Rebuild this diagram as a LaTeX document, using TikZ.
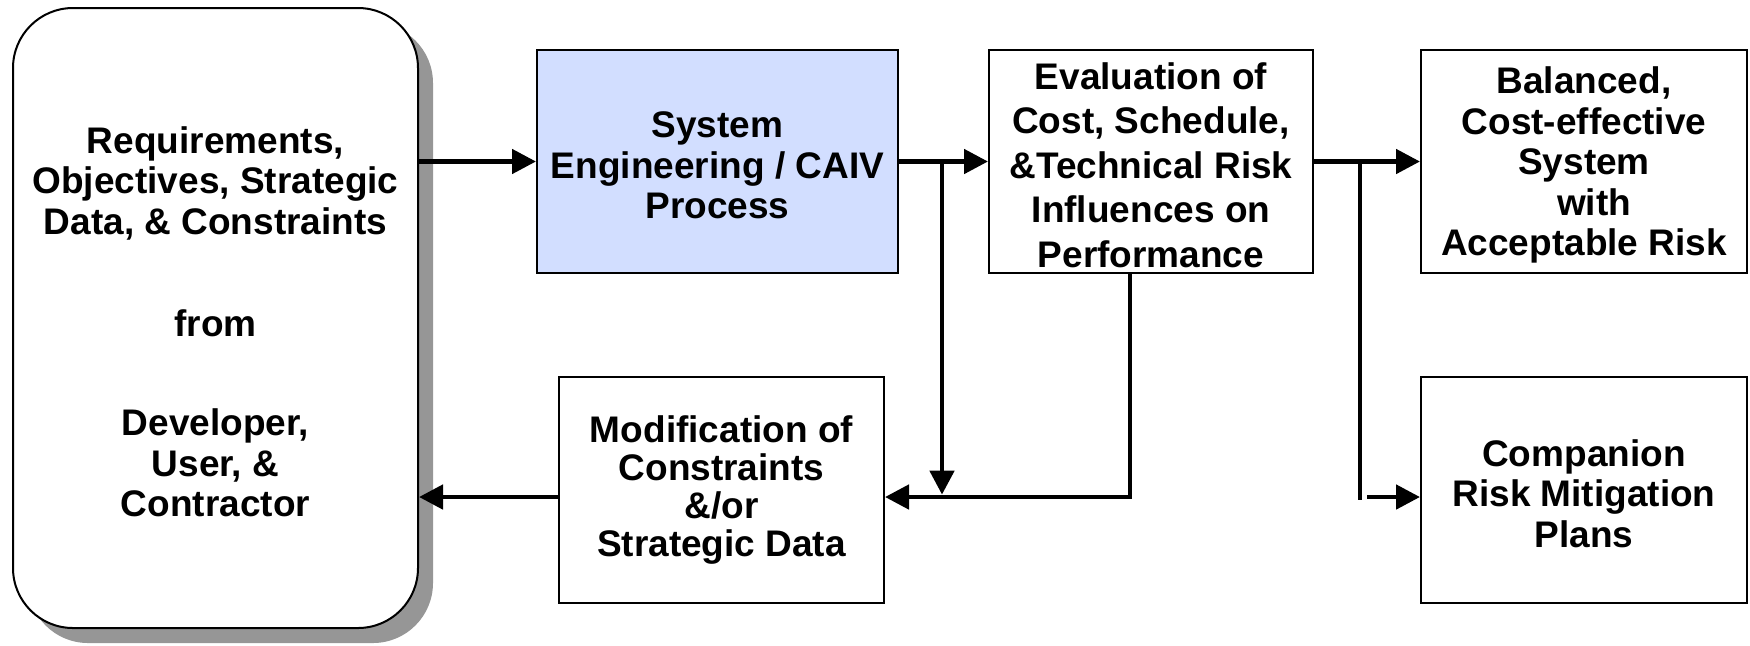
\documentclass[tikz,border=0pt]{standalone}
\usepackage{fontspec}
\setmainfont{Liberation Sans}
\usetikzlibrary{arrows.meta,calc,shadows}
\definecolor{procblue}{RGB}{210,222,255}
\definecolor{shadowgray}{RGB}{150,150,150}
% tall invisible strut on the first line lowers each text block slightly
\newcommand\firstline{\rule{0pt}{17pt}}

\begin{document}
\begin{tikzpicture}[x=0.5pt,y=-0.5pt,
  box/.style={draw=black,line width=1pt,fill=white,align=center,inner sep=0pt,
    font=\bfseries\fontsize{18.5}{20.3}\selectfont},
  conn/.style={line width=2.4pt},
  arr/.style={conn,-{Triangle[length=12pt,width=12pt]}},
]
\useasboundingbox (0,0) rectangle (1750,645);

% source of requirements (rounded, with drop shadow)
\node[box, rounded corners=30pt, minimum width=202.5pt, minimum height=310pt,
  drop shadow={shadow xshift=7.5pt, shadow yshift=-7.5pt, fill=shadowgray, opacity=1}]
  (src) at (215.5,318)
  {\firstline Requirements,\\Objectives, Strategic\\Data, \& Constraints\\[31pt]from\\[29pt]Developer,\\User, \&\\Contractor};

% process boxes
\node[box, fill=procblue, minimum width=180.5pt, minimum height=111.5pt]
  (se) at (717.5,161.5) {\firstline System\\Engineering / CAIV\\Process};
\node[box, minimum width=162pt, minimum height=111.5pt,
  font=\bfseries\fontsize{18.5}{22.3}\selectfont]
  (ev) at (1151,161.5) {\firstline Evaluation of\\Cost, Schedule,\\\&Technical Risk\\Influences on\\Performance};
\node[box, minimum width=163pt, minimum height=111.5pt]
  (bal) at (1584,161.5) {\firstline Balanced,\\Cost-effective\\System\hspace*{8pt}\\\hspace*{10pt}with\\Acceptable Risk};
\node[box, minimum width=162.5pt, minimum height=113pt,
  font=\bfseries\fontsize{18.5}{19}\selectfont]
  (mod) at (721.5,490) {Modification of\\Constraints\\\&/or\\Strategic Data};
\node[box, minimum width=163pt, minimum height=113pt]
  (cp) at (1584,490) {\firstline Companion\\Risk Mitigation\\Plans};

% lower feedback row
\coordinate (brow) at (0,497);

% connectors
\draw[arr] (se.west -| src.east) -- (se.west);
\draw[arr] (se.east) -- (ev.west);
\coordinate (j1) at ($(se.east)+(43,0)$);
\draw[arr, shorten >=1.2pt] (j1) -- (j1 |- brow);
\coordinate (j2) at ($(ev.south)+(-21,0)$);
\draw[arr] (j2) -- (j2 |- brow) -- (mod.east |- brow);
\draw[arr] (mod.west |- brow) -- (src.east |- brow);
\draw[arr] (ev.east) -- (bal.west);
\coordinate (j3) at ($(ev.east)+(46,0)$);
\draw[conn] (j3) -- ($(j3 |- brow)+(0,3)$);
\draw[arr] ($(j3 |- brow)+(7,0)$) -- (cp.west |- brow);
\end{tikzpicture}
\end{document}
